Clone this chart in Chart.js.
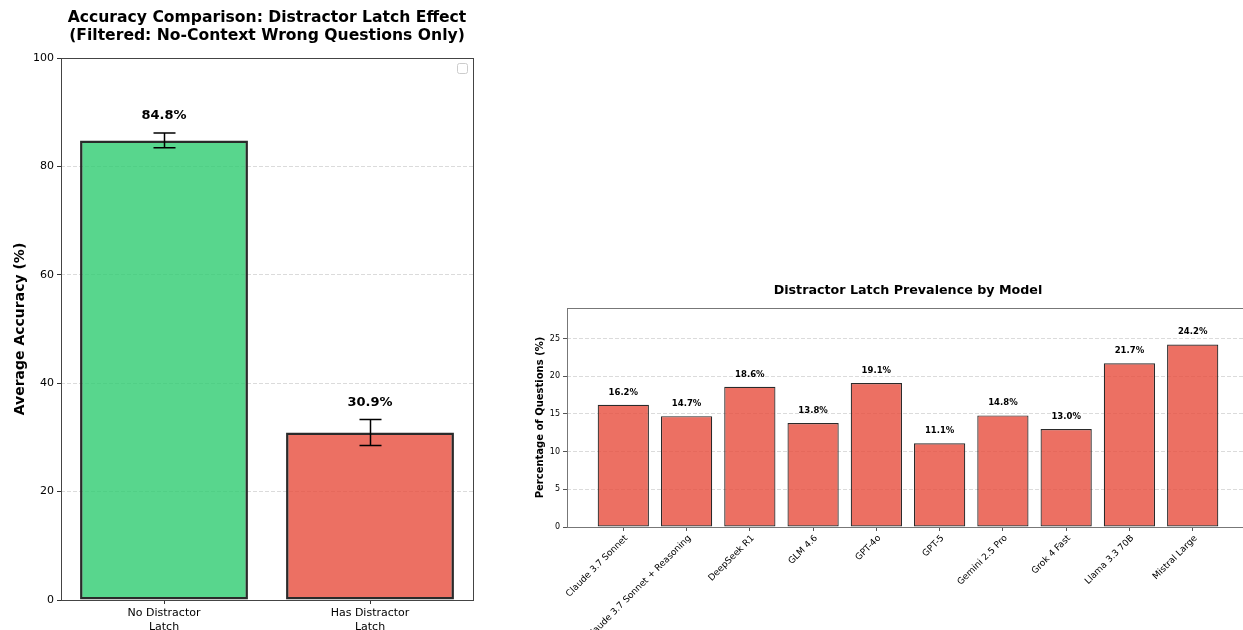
<!DOCTYPE html>
<html><head><meta charset="utf-8">
<script src="https://cdn.jsdelivr.net/npm/chart.js@4.4.0/dist/chart.umd.min.js"></script>
<style>
html,body{margin:0;padding:0;background:#fff;overflow:hidden;width:1243px;height:630px;position:relative;}
#c1{position:absolute;left:0;top:0;}
#c2{position:absolute;left:510px;top:0;}
</style></head><body>
<canvas id="c1" width="500" height="630"></canvas>
<canvas id="c2" width="750" height="630"></canvas>
<script>
// ---- Data ----
const groupLabels = [['No Distractor', 'Latch'], ['Has Distractor', 'Latch']];
const groupAccuracy = [84.8, 30.9];
const groupError = [1.35, 2.4];
const accuracyTicks = [0, 20, 40, 60, 80, 100];
const leftTitle = ['Accuracy Comparison: Distractor Latch Effect', '(Filtered: No-Context Wrong Questions Only)'];

const models = ['Claude 3.7 Sonnet', 'Claude 3.7 Sonnet + Reasoning', 'DeepSeek R1', 'GLM 4.6', 'GPT-4o', 'GPT-5', 'Gemini 2.5 Pro', 'Grok 4 Fast', 'Llama 3.3 70B', 'Mistral Large'];
const latchPct = [16.2, 14.7, 18.6, 13.8, 19.1, 11.1, 14.8, 13.0, 21.7, 24.2];
const pctTicks = [0, 5, 10, 15, 20, 25];
const rightTitle = ['Distractor Latch Prevalence by Model'];

Chart.defaults.font.family = "'DejaVu Sans', sans-serif";
Chart.defaults.color = '#000';
Chart.defaults.animation = false;

const GRID = 'rgba(190,190,190,0.55)';

function makeFrame(color) {
  return {
    id: 'frame',
    afterDraw(chart) {
      const a = chart.chartArea, ctx = chart.ctx;
      ctx.save();
      ctx.strokeStyle = color;
      ctx.lineWidth = 1;
      ctx.strokeRect(Math.round(a.left) + 0.5, Math.round(a.top) + 0.5, Math.round(a.right - a.left), Math.round(a.bottom - a.top));
      ctx.restore();
    }
  };
}

// Title centred over the plotting area (as matplotlib does)
function makeTitle(lines, size, firstY, lineGap) {
  return {
    id: 'areaTitle',
    afterDraw(chart) {
      const a = chart.chartArea, ctx = chart.ctx;
      ctx.save();
      ctx.fillStyle = '#000';
      ctx.font = 'bold ' + size + "px 'DejaVu Sans'";
      ctx.textAlign = 'center';
      ctx.textBaseline = 'middle';
      lines.forEach((t, i) => ctx.fillText(t, (a.left + a.right) / 2, firstY + i * lineGap));
      ctx.restore();
    }
  };
}

// Left chart extras: error bars, value labels, empty legend frame
const leftPlugin = {
  id: 'leftExtras',
  afterDatasetsDraw(chart) {
    const ctx = chart.ctx, ys = chart.scales.y;
    const meta = chart.getDatasetMeta(0);
    ctx.save();
    meta.data.forEach((bar, i) => {
      const v = groupAccuracy[i], e = groupError[i];
      const yt = ys.getPixelForValue(v + e), yb = ys.getPixelForValue(v - e);
      const x = Math.round(bar.x) + 0.5;
      ctx.strokeStyle = '#000';
      ctx.lineWidth = 1.5;
      ctx.beginPath();
      ctx.moveTo(x, yt); ctx.lineTo(x, yb);
      ctx.moveTo(x - 11, yt); ctx.lineTo(x + 11, yt);
      ctx.moveTo(x - 11, yb); ctx.lineTo(x + 11, yb);
      ctx.stroke();
      ctx.fillStyle = '#000';
      ctx.font = "bold 13px 'DejaVu Sans'";
      ctx.textAlign = 'center';
      ctx.textBaseline = 'bottom';
      ctx.fillText(v.toFixed(1) + '%', bar.x, ys.getPixelForValue(v + e + 2));
    });
    const a = chart.chartArea;
    ctx.strokeStyle = '#cccccc';
    ctx.lineWidth = 1;
    ctx.beginPath();
    ctx.roundRect(Math.round(a.right) - 15.5, Math.round(a.top) + 5.5, 10, 10, 2);
    ctx.stroke();
    ctx.restore();
  }
};

new Chart(document.getElementById('c1'), {
  type: 'bar',
  data: {
    labels: groupLabels,
    datasets: [{
      data: groupAccuracy,
      backgroundColor: ['rgba(46,204,113,0.8)', 'rgba(231,76,60,0.8)'],
      borderColor: '#2a2a2a',
      borderWidth: 2.5,
      borderSkipped: false,
      barPercentage: 0.815,
      categoryPercentage: 1
    }]
  },
  options: {
    responsive: false,
    layout: { padding: { left: 0, right: 27, top: 58, bottom: 0 } },
    plugins: { legend: { display: false }, tooltip: { enabled: false }, title: { display: false } },
    scales: {
      x: {
        offset: true,
        grid: { offset: false, drawOnChartArea: false, tickLength: 4, tickColor: '#333' },
        border: { display: false },
        ticks: { font: { size: 11 }, padding: 3, color: '#000' },
        afterFit(s) { s.height = 30; }
      },
      y: {
        min: 0, max: 100,
        afterBuildTicks(s) { s.ticks = accuracyTicks.map(v => ({ value: v })); },
        grid: {
          color: c => (c.tick && (c.tick.value === 0 || c.tick.value === 100)) ? 'rgba(0,0,0,0)' : GRID,
          tickLength: 4, tickColor: '#333', tickBorderDash: []
        },
        border: { display: false, dash: [4, 2] },
        ticks: { font: { size: 11 }, padding: 3, color: '#000' },
        title: { display: true, text: 'Average Accuracy (%)', font: { size: 14, weight: 'bold' }, color: '#000', padding: { top: 12, bottom: 0 } },
        afterFit(s) { s.width = 61; }
      }
    }
  },
  plugins: [makeFrame('#444'), makeTitle(leftTitle, 15.6, 18, 18), leftPlugin]
});

// Right chart value labels
const rightPlugin = {
  id: 'rightLabels',
  afterDatasetsDraw(chart) {
    const ctx = chart.ctx, ys = chart.scales.y;
    const meta = chart.getDatasetMeta(0);
    ctx.save();
    ctx.fillStyle = '#000';
    ctx.font = "bold 8.5px 'DejaVu Sans'";
    ctx.textAlign = 'center';
    ctx.textBaseline = 'bottom';
    meta.data.forEach((bar, i) => {
      ctx.fillText(latchPct[i].toFixed(1) + '%', bar.x, ys.getPixelForValue(latchPct[i]) - 8);
    });
    ctx.restore();
  }
};

new Chart(document.getElementById('c2'), {
  type: 'bar',
  data: {
    datasets: [{
      data: latchPct.map((v, i) => ({ x: i, y: v })),
      backgroundColor: 'rgba(231,76,60,0.8)',
      borderColor: '#2a2a2a',
      borderWidth: 1.2,
      borderSkipped: false,
      barPercentage: 0.81,
      categoryPercentage: 1
    }]
  },
  options: {
    responsive: false,
    layout: { padding: { left: 0, right: 11, top: 308, bottom: 0 } },
    plugins: { legend: { display: false }, tooltip: { enabled: false }, title: { display: false } },
    scales: {
      x: {
        type: 'linear',
        min: -0.89, max: 9.89,
        offset: false,
        afterBuildTicks(s) { s.ticks = models.map((_, i) => ({ value: i })); },
        grid: { offset: false, drawOnChartArea: false, tickLength: 4, tickColor: '#555' },
        border: { display: false },
        ticks: {
          autoSkip: false, minRotation: 45, maxRotation: 45, font: { size: 9 }, padding: 2, color: '#000', labelOffset: 3,
          callback: (v) => models[v] !== undefined ? models[v] : ''
        },
        afterFit(s) { s.height = 103; }
      },
      y: {
        min: 0, max: 29.04,
        afterBuildTicks(s) { s.ticks = pctTicks.map(v => ({ value: v })); },
        grid: {
          color: c => (c.tick && c.tick.value === 0) ? 'rgba(0,0,0,0)' : GRID,
          tickLength: 4, tickColor: '#555', tickBorderDash: []
        },
        border: { display: false, dash: [4, 2] },
        ticks: { font: { size: 8 }, padding: 3, color: '#000' },
        title: { display: true, text: 'Percentage of Questions (%)', font: { size: 10, weight: 'bold' }, color: '#000', padding: { top: 24, bottom: 0 } },
        afterFit(s) { s.width = 57; }
      }
    }
  },
  plugins: [makeFrame('#777'), makeTitle(rightTitle, 12.7, 291, 16), rightPlugin]
});
</script>
</body></html>
